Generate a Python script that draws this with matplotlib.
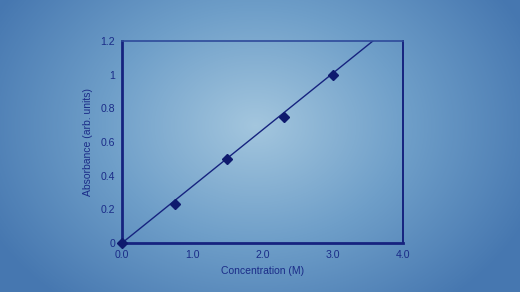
import numpy as np
import matplotlib
matplotlib.use("Agg")
import matplotlib.pyplot as plt
from matplotlib.colors import LinearSegmentedColormap

plt.rcParams['font.family'] = ['Liberation Sans', 'DejaVu Sans']

# data
concentration = [0.0, 0.75, 1.5, 2.3, 3.0]
absorbance = [0.0, 0.23, 0.5, 0.75, 1.0]
fit_slope = 0.336
x_ticks = [0.0, 1.0, 2.0, 3.0, 4.0]
x_tick_labels = ['0.0', '1.0', '2.0', '3.0', '4.0']
y_ticks = [0, 0.2, 0.4, 0.6, 0.8, 1.0, 1.2]
y_tick_labels = ['0', '0.2', '0.4', '0.6', '0.8', '1', '1.2']

navy = '#16237f'
text_col = '#1b2c88'
W, H = 520, 292
fig = plt.figure(figsize=(W / 100, H / 100), dpi=100)

# radial background
bg = fig.add_axes([0, 0, 1, 1])
yy, xx = np.mgrid[0:H, 0:W]
r = np.sqrt(((xx - 255) / 300.0) ** 2 + ((yy - 125) / 230.0) ** 2)
cmap = LinearSegmentedColormap.from_list('bg', ['#a3c6de', '#6f9fc9', '#4677b0'])
bg.imshow(np.clip(r, 0, 1), cmap=cmap, aspect='auto', extent=[0, W, H, 0], vmin=0, vmax=1)
bg.axis('off')

ax = fig.add_axes([122 / W, 1 - 243 / H, (403 - 122) / W, (243 - 41) / H])
ax.patch.set_alpha(0)

xf = np.array([0, 4.0])
ax.plot(xf, fit_slope * xf, color=navy, lw=1.0, zorder=2)
ax.plot(concentration, absorbance, 'D', color='#0f1a6e', ms=5, zorder=3,
        clip_on=False)

ax.set_xlim(0, 4)
ax.set_ylim(0, 1.2)
ax.set_xticks(x_ticks)
ax.set_xticklabels(x_tick_labels)
ax.set_yticks(y_ticks)
ax.set_yticklabels(y_tick_labels)
ax.tick_params(length=0, labelsize=7.6, labelcolor=text_col, pad=5)
ax.set_xlabel('Concentration (M)', fontsize=7.5, color=text_col, labelpad=4)
ax.set_ylabel('Absorbance (arb. units)', fontsize=7.5, color=text_col, labelpad=5)

for side in ['left', 'bottom']:
    ax.spines[side].set_color(navy)
    ax.spines[side].set_linewidth(2)
ax.spines['right'].set_color(navy)
ax.spines['right'].set_linewidth(1.4)
ax.spines['top'].set_color('#2e4a9a')
ax.spines['top'].set_linewidth(1.2)

fig.savefig('out.png', dpi=100)
